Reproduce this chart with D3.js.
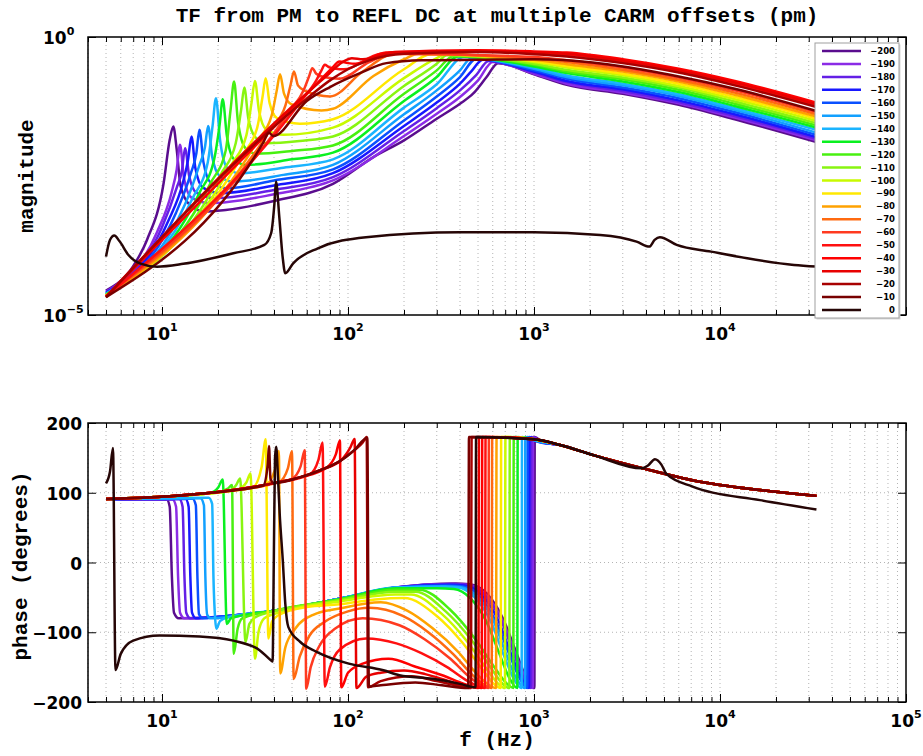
<!DOCTYPE html>
<html>
<head>
<meta charset="utf-8">
<script src="https://cdn.jsdelivr.net/npm/d3@7"></script>
<style>
  body { margin: 0; background: #fff; }
  text { font-family: "DejaVu Sans", sans-serif; font-weight: bold; fill: #000; }
  .mono { font-family: "Liberation Mono", monospace; font-weight: bold; }
</style>
</head>
<body>
<script>
// CARM offsets (pm) and their line colours
const offsets = [-200, -190, -180, -170, -160, -150, -140, -130, -120, -110, -100, -90, -80, -70, -60, -50, -40, -30, -20, -10, 0];
const lineColors = ["#5a0d8e", "#8b2be6", "#6420e6", "#1818ff", "#0a50ff", "#12a0ff", "#1ab4ff", "#0af020",
  "#48f010", "#88f510", "#c8fa00", "#ffe800", "#ffa200", "#ff6a10", "#ff3a20", "#ff1010", "#ff0000",
  "#e80000", "#a80000", "#780000", "#260606"];

// magnitude: [f (Hz), log10 |TF|]
const magM200 = [[5,-4.56],[7,-4.12],[8.3,-3.65],[10.2,-2.63],[11.0,-1.85],[11.5,-1.61],[12.0,-2.03],[12.6,-2.69],[14.1,-3.02],[17,-3.14],[22,-3.11],[40,-2.95],[83,-2.64],[137,-2.16],[200,-1.86],[300,-1.47],[400,-1.20],[470,-1.02],[556,-0.72],[640,-0.47],[1000,-0.67],[1500,-0.86],[3000,-1.02],[6000,-1.22],[12000,-1.48],[33000,-1.89]];
const magM190 = [[5,-4.58],[9.4,-3.51],[11.25,-2.80],[12.0,-2.38],[12.5,-1.94],[13.1,-2.52],[14.4,-2.89],[18.1,-2.99],[40,-2.83],[83,-2.58],[200,-1.78],[300,-1.38],[400,-1.08],[500,-0.78],[600,-0.45],[1000,-0.66],[1500,-0.84],[3000,-1.00],[6000,-1.19],[12000,-1.45],[33000,-1.86]];
const magM180 = [[5,-4.59],[10.0,-3.42],[12.0,-2.71],[12.8,-2.40],[13.3,-2.00],[14.0,-2.50],[15.3,-2.80],[19.3,-2.90],[40,-2.75],[83,-2.52],[200,-1.69],[300,-1.28],[400,-0.96],[490,-0.68],[570,-0.43],[1000,-0.64],[1500,-0.81],[3000,-0.97],[6000,-1.17],[12000,-1.42],[33000,-1.83]];
const magM170 = [[5,-4.60],[10.8,-3.31],[13.0,-2.60],[13.8,-2.21],[14.4,-1.79],[15.1,-2.35],[16.6,-2.71],[20.6,-2.81],[40,-2.67],[83,-2.45],[200,-1.60],[300,-1.18],[400,-0.84],[460,-0.62],[530,-0.41],[1000,-0.62],[1500,-0.79],[3000,-0.94],[6000,-1.14],[12000,-1.39],[33000,-1.80]];
const magM160 = [[5,-4.61],[11.9,-3.16],[14.3,-2.45],[15.3,-2.09],[15.9,-1.67],[16.7,-2.25],[18.3,-2.62],[22.4,-2.72],[40,-2.58],[83,-2.38],[200,-1.50],[300,-1.07],[400,-0.72],[490,-0.39],[1000,-0.60],[1500,-0.75],[3000,-0.91],[6000,-1.10],[12000,-1.35],[33000,-1.76]];
const magM150 = [[5,-4.62],[13.3,-3.01],[15.9,-2.30],[17.0,-1.99],[17.7,-1.60],[18.6,-2.15],[20.4,-2.50],[24,-2.60],[45,-2.48],[83,-2.30],[200,-1.39],[300,-0.96],[400,-0.60],[460,-0.38],[1000,-0.57],[1500,-0.72],[3000,-0.87],[6000,-1.06],[12000,-1.31],[33000,-1.72]];
const magM140 = [[5,-4.62],[14.6,-2.90],[17.6,-2.26],[18.7,-1.60],[19.5,-1.10],[20.5,-1.84],[22.4,-2.35],[26,-2.45],[45,-2.35],[83,-2.20],[200,-1.27],[300,-0.85],[420,-0.36],[1000,-0.55],[1500,-0.69],[3000,-0.84],[6000,-1.03],[12000,-1.28],[33000,-1.67]];
const magM130 = [[5,-4.63],[15.9,-2.80],[19.1,-2.19],[20.4,-1.58],[21.2,-1.12],[22.3,-1.77],[24.4,-2.20],[28.5,-2.30],[50,-2.20],[83,-2.08],[200,-1.15],[300,-0.72],[390,-0.35],[1000,-0.53],[1500,-0.65],[3000,-0.80],[6000,-0.99],[12000,-1.24],[33000,-1.63]];
const magM120 = [[5,-4.64],[18.3,-2.62],[22.0,-2.04],[23.4,-1.29],[24.4,-0.80],[25.6,-1.52],[28.1,-2.00],[32,-2.10],[50,-2.05],[83,-1.95],[200,-1.02],[300,-0.60],[370,-0.34],[1000,-0.50],[1500,-0.62],[3000,-0.76],[6000,-0.95],[12000,-1.20],[33000,-1.59]];
const magM110 = [[5,-4.64],[20.8,-2.46],[24.9,-1.91],[26.6,-1.32],[27.7,-0.91],[29.1,-1.46],[31.9,-1.81],[36.5,-1.91],[55,-1.87],[83,-1.79],[200,-0.88],[300,-0.48],[340,-0.33],[1000,-0.48],[1500,-0.59],[3000,-0.73],[6000,-0.91],[12000,-1.16],[33000,-1.55]];
const magM100 = [[5,-4.65],[23.7,-2.29],[28.4,-1.77],[30.3,-1.18],[31.6,-0.79],[33.2,-1.32],[36.3,-1.66],[45,-1.76],[83,-1.63],[200,-0.74],[300,-0.38],[330,-0.32],[1000,-0.45],[1500,-0.55],[3000,-0.69],[6000,-0.88],[12000,-1.12],[33000,-1.51]];
const magM90 = [[5,-4.65],[27.1,-2.12],[32.5,-1.63],[34.7,-1.08],[36.1,-0.74],[37.9,-1.19],[41.5,-1.46],[55,-1.56],[83,-1.48],[200,-0.58],[280,-0.31],[1000,-0.43],[1500,-0.52],[3000,-0.66],[6000,-0.84],[12000,-1.08],[33000,-1.47]];
const magM80 = [[5,-4.66],[32.3,-1.89],[38.8,-1.42],[41.4,-0.96],[43.1,-0.67],[45.3,-1.02],[49.6,-1.21],[72,-1.32],[83,-1.29],[137,-0.70],[200,-0.40],[240,-0.30],[1000,-0.41],[1500,-0.49],[3000,-0.62],[6000,-0.80],[12000,-1.04],[33000,-1.43]];
const magM70 = [[5,-4.66],[38.4,-1.66],[46.1,-1.23],[49.2,-0.85],[51.2,-0.62],[53.8,-0.87],[58.9,-0.97],[80,-1.07],[120,-0.62],[180,-0.30],[1000,-0.38],[1500,-0.45],[3000,-0.59],[6000,-0.77],[12000,-1.00],[33000,-1.39]];
const magM60 = [[5,-4.66],[48.2,-1.35],[57.9,-0.95],[61.7,-0.71],[64.3,-0.56],[67.5,-0.66],[74,-0.72],[90,-0.75],[130,-0.45],[170,-0.30],[1000,-0.36],[1500,-0.42],[3000,-0.55],[6000,-0.73],[12000,-0.96],[33000,-1.35]];
const magM50 = [[5,-4.67],[56.3,-1.14],[67.5,-0.78],[72,-0.60],[75,-0.50],[78.8,-0.54],[86,-0.57],[95,-0.58],[150,-0.30],[500,-0.25],[1000,-0.29],[1500,-0.32],[3000,-0.44],[6000,-0.62],[12000,-0.84],[33000,-1.23]];
const magM40 = [[5,-4.67],[67.5,-0.85],[81,-0.58],[90,-0.44],[100,-0.47],[110,-0.48],[160,-0.28],[500,-0.24],[1000,-0.26],[1500,-0.28],[3000,-0.40],[6000,-0.57],[12000,-0.79],[33000,-1.18]];
const magM30 = [[5,-4.67],[79,-0.66],[94.5,-0.44],[105,-0.38],[120,-0.40],[180,-0.27],[500,-0.25],[1000,-0.28],[1500,-0.30],[3000,-0.43],[6000,-0.60],[12000,-0.82],[33000,-1.21]];
const magM20 = [[5,-4.68],[60,-1.11],[80,-0.78],[100,-0.58],[130,-0.42],[200,-0.30],[500,-0.27],[1000,-0.31],[1500,-0.35],[3000,-0.47],[6000,-0.64],[12000,-0.87],[33000,-1.26]];
const magM10 = [[5,-4.68],[35,-1.90],[37.6,-1.72],[39.5,-1.78],[60,-1.15],[80,-0.90],[116,-0.65],[161,-0.47],[250,-0.42],[500,-0.41],[1000,-0.40],[1500,-0.42],[3000,-0.53],[6000,-0.71],[12000,-0.93],[33000,-1.33]];
const magM0 = [[5,-3.95],[5.25,-3.65],[5.54,-3.57],[5.9,-3.67],[6.6,-3.92],[7.6,-4.07],[9.4,-4.13],[13,-4.08],[24.2,-3.89],[35.5,-3.74],[38.6,-3.53],[40.2,-3.0],[41,-2.60],[42.7,-3.23],[44.5,-3.95],[46,-4.25],[50.7,-4.07],[68.9,-3.80],[125,-3.60],[400,-3.51],[1000,-3.51],[2270,-3.56],[3560,-3.68],[4170,-3.77],[4450,-3.65],[4750,-3.60],[5850,-3.74],[8950,-3.86],[14000,-3.98],[25000,-4.10],[33000,-4.13]];

// phase: [f (Hz), degrees]; common high-frequency line after the wrap
const phaseTail = [[1380,168.4],[2085,154],[3860,134.9],[7180,117.6],[16400,103.8],[33000,95.5]];
const phM200 = [[5,90.5],[10.6,90.5],[11.0,80],[11.3,-20],[11.6,-72],[12.3,-80],[20,-78],[40,-69],[90,-52],[181,-36],[380,-30],[450,-31],[560,-45],[680,-80],[800,-128],[900,-163],[1005,-180],[1009,180],[1105,173], ...phaseTail];
const phM190 = [[5,90.5],[11.4,90.5],[11.9,80],[12.2,-20],[12.5,-72],[13.2,-80],[20,-78],[40,-69],[90,-52],[181,-36],[370,-31],[440,-32],[550,-46],[670,-81],[790,-129],[890,-163],[985,-180],[989,180],[1090,173], ...phaseTail];
const phM180 = [[5,90.5],[12.4,91],[12.9,80],[13.2,-20],[13.5,-72],[14.2,-80],[20,-78],[40,-69],[90,-52],[181,-36],[360,-31],[430,-32],[540,-46],[660,-81],[775,-129],[870,-163],[963,-180],[967,180],[1070,173], ...phaseTail];
const phM170 = [[5,91],[13.4,91],[13.9,80],[14.2,-20],[14.5,-72],[15.2,-80],[20,-78],[40,-69],[90,-52],[181,-36],[350,-32],[420,-33],[525,-47],[640,-82],[750,-130],[850,-164],[940,-180],[944,180],[1050,173], ...phaseTail];
const phM160 = [[5,91],[14.6,91.5],[15.2,82],[15.5,-20],[15.8,-74],[16.6,-80],[20,-78],[40,-69],[90,-52],[181,-36],[340,-33],[410,-34],[510,-48],[620,-83],[735,-131],[830,-164],[920,-180],[924,180],[1030,174], ...phaseTail];
const phM150 = [[5,91],[16.1,92],[16.8,82],[17.1,-20],[17.5,-75],[18.3,-80],[40,-69],[90,-52],[181,-36],[330,-34],[400,-35],[495,-49],[605,-83],[710,-132],[800,-165],[894,-180],[898,180],[1000,175], ...phaseTail];
const phM140 = [[5,91],[17.8,93],[18.6,84],[18.9,-20],[19.3,-80],[19.6,-95],[20.5,-84],[23,-78],[40,-69],[90,-52],[181,-36],[320,-35],[390,-36],[480,-50],[585,-84],[686,-132],[773,-165],[858,-180],[862,180],[1000,176], ...phaseTail];
const phM130 = [[5,91],[11,95],[18,99.5],[20.1,108],[21.2,119],[22.3,-88],[23.5,-80],[40,-69],[90,-52.5],[181,-37],[300,-37],[370,-38],[454,-51],[553,-84],[650,-130],[732,-164],[813,-180],[817,180],[1000,176.6], ...phaseTail];
const phM120 = [[5,91],[11,95],[20.2,101],[22.6,106],[23.8,111],[24.3,-131],[25.5,-95],[27,-80],[40,-69],[90,-53],[181,-39],[242,-39],[352,-67],[484,-110],[619,-152],[717,-174],[774,-180],[778,180],[1000,176.6], ...phaseTail];
const phM110 = [[5,91],[11,95],[22.4,102],[25,110.6],[26.3,120.5],[28.1,-114],[29.5,-88],[32,-78],[40,-70],[90,-54],[181,-42],[230,-42],[335,-70],[461,-111],[590,-152],[682,-174.5],[737,-180],[741,180],[1000,176.6], ...phaseTail];
const phM100 = [[5,91],[11,95],[25.4,104.4],[28.4,114.7],[29.9,127.7],[31.6,-138],[33,-100],[35.5,-80],[45,-70],[90,-56],[180,-46],[218,-46],[317,-73],[436,-113],[558,-153],[646,-174.6],[698,-180],[702,180],[1000,176.6], ...phaseTail];
const phM90 = [[5,91],[11,95],[30.7,107.5],[34.3,136.6],[36.1,176.6],[37.3,-109],[39,-85],[42,-76],[60,-64],[90,-60],[140,-53],[200,-51],[301,-77],[414,-115.5],[530,-154],[613,-175],[662,-180],[666,180],[1000,176.6], ...phaseTail];
const phM80 = [[5,91],[11,95],[20,101],[36,111.2],[40.4,132.4],[42.5,160],[43.2,-159],[46,-122],[52,-95],[65,-75],[90,-66],[150,-57],[208,-69],[284,-94],[391,-128],[500,-161.6],[579,-176.3],[625,-180],[629,180],[1000,176.6], ...phaseTail];
const phM70 = [[5,91],[11,95],[20,101],[42.5,115.3],[47.5,135],[50,160],[51,-167],[55,-135],[62,-105],[75,-85],[100,-70],[130,-65],[197,-76.5],[269,-99.5],[370,-132],[474,-163],[548,-176.6],[592,-180],[596,180],[1000,176.6], ...phaseTail];
const phM60 = [[5,91],[11,95],[20,101],[40,113.8],[49.7,119.5],[55.6,137.8],[58.5,161],[59.6,-181],[63,-150],[70,-120],[85,-95],[120,-80],[189,-90],[258,-110],[355,-138],[454,-165],[526,-177],[568,-180],[572,180],[1000,176.6], ...phaseTail];
const phM50 = [[5,91],[11,95],[20,101],[40,113.8],[62,126],[69.4,147.6],[73,172],[75,-178],[80,-150],[90,-125],[125,-109],[182,-116],[248,-130],[341,-150],[436,-169.4],[505,-177.9],[545,-180],[549,180],[1000,176.6], ...phaseTail];
const phM40 = [[5,91],[11,95],[20,101],[40,113.8],[55,122],[77,136.3],[86,155],[90.5,175],[92,-179],[100,-158],[120,-145],[165,-138],[238,-150.6],[327,-162.4],[418,-173.7],[484,-178.7],[523,-180],[527,180],[1000,176.6], ...phaseTail];
const phM30 = [[5,91],[11,95],[20,101],[40,113.8],[55,122],[72,133],[92,146.8],[103,165],[108.5,177],[111,-180],[125,-164],[150,-158],[200,-155],[260,-160],[330,-168],[410,-176],[502,-180],[506,180],[1000,176.6], ...phaseTail];
const phM20 = [[5,91],[11,95],[20,101],[40,113.8],[55,122],[72,133],[90,145],[107,160],[120,172],[126,180],[128,-179],[150,-170],[220,-163],[300,-170],[380,-176],[458,-180],[462,180],[1000,176.6], ...phaseTail];
const phM10 = [[5,91],[11,95],[20,101],[35,110.5],[37,140],[37.6,167],[38.3,120],[40,113.8],[55,122],[72,133],[90,145],[108,161],[127,179],[129.5,-178],[150,-176],[230,-172],[320,-176],[443,-180],[447,180],[1000,176.6], ...phaseTail];
const phM0 = [[5,113.4],[5.25,130],[5.45,164],[5.62,-154],[6.0,-131],[7.0,-112],[9.7,-104.6],[15.9,-106],[24.2,-112],[33.6,-126],[38.6,-140.5],[39.3,-142],[39.9,0],[40.5,150],[41.1,166],[42.0,123],[42.9,71],[44.6,3],[46,-59],[47.8,-92.6],[55.4,-114],[67.8,-128],[101,-145],[155,-154.5],[189,-161.6],[286,-166.8],[400,-174],[485,-179],[488,180],[1000,176.6],[1380,168.4],[2085,154],[3800,135],[4100,139],[4470,148],[4850,140],[5150,127],[7180,108.5],[16400,89.4],[33000,76]];

const magSeries = [magM200, magM190, magM180, magM170, magM160, magM150, magM140, magM130, magM120, magM110, magM100,
  magM90, magM80, magM70, magM60, magM50, magM40, magM30, magM20, magM10, magM0];
const phaseSeries = [phM200, phM190, phM180, phM170, phM160, phM150, phM140, phM130, phM120, phM110, phM100,
  phM90, phM80, phM70, phM60, phM50, phM40, phM30, phM20, phM10, phM0];

// axis ticks
const xMajor = [10, 100, 1000, 10000, 100000];
const xMinor = [];
[1, 10, 100, 1000, 10000].forEach(d => { for (let k = 2; k <= 9; k++) if (d * k >= 4) xMinor.push(d * k); });
const phaseTicks = [-200, -100, 0, 100, 200];

const width = 923, height = 756;
const left = 88, right = 906;
const magTop = 37, magBottom = 315, phTop = 423, phBottom = 702;

const svg = d3.select("body").append("svg").attr("width", width).attr("height", height);

const x = d3.scaleLog().domain([4, 1e5]).range([left, right]);
const yMag = d3.scaleLog().domain([1e-5, 1]).range([magBottom, magTop]);
const yPh = d3.scaleLinear().domain([-200, 200]).range([phBottom, phTop]);

function frame(top, bottom, y, yTickVals, id) {
  const g = svg.append("g");
  // dotted grid
  const grid = g.append("g").attr("stroke", "#b4b4b4").attr("stroke-width", 1).attr("stroke-dasharray", "1,3");
  xMinor.concat(xMajor.slice(0, 4)).forEach(v => {
    grid.append("line").attr("x1", x(v)).attr("x2", x(v)).attr("y1", top).attr("y2", bottom);
  });
  yTickVals.filter(v => y(v) > top + 1 && y(v) < bottom - 1).forEach(v => {
    grid.append("line").attr("x1", left).attr("x2", right).attr("y1", y(v)).attr("y2", y(v));
  });
  svg.append("clipPath").attr("id", id).append("rect")
    .attr("x", left).attr("y", top).attr("width", right - left).attr("height", bottom - top);
  return g;
}

function ticks(top, bottom, y, yTickVals) {
  const g = svg.append("g");
  const addAxis = (axis, tx, ty) => {
    const a = g.append("g").attr("transform", `translate(${tx},${ty})`).call(axis);
    a.select(".domain").remove();
    a.selectAll("line").attr("stroke", "#000");
  };
  addAxis(d3.axisBottom(x).tickValues(xMinor).tickSize(-5).tickFormat(""), 0, bottom);
  addAxis(d3.axisBottom(x).tickValues(xMajor).tickSize(-8).tickFormat(""), 0, bottom);
  addAxis(d3.axisTop(x).tickValues(xMinor).tickSize(-5).tickFormat(""), 0, top);
  addAxis(d3.axisTop(x).tickValues(xMajor).tickSize(-8).tickFormat(""), 0, top);
  addAxis(d3.axisLeft(y).tickValues(yTickVals).tickSize(-8).tickFormat(""), left, 0);
  addAxis(d3.axisRight(y).tickValues(yTickVals).tickSize(-8).tickFormat(""), right, 0);
  g.append("rect").attr("x", left).attr("y", top).attr("width", right - left).attr("height", bottom - top)
    .attr("fill", "none").attr("stroke", "#000").attr("stroke-width", 1.5);
}

function powLabel(px, py, exp, anchor) {
  const t = svg.append("text").attr("x", px).attr("y", py).attr("text-anchor", anchor).attr("font-size", 17);
  t.append("tspan").text("10");
  t.append("tspan").attr("dy", -9).attr("font-size", 11).text(exp);
}

// ---- magnitude panel ----
frame(magTop, magBottom, yMag, [], "clipMag");
const magLine = d3.line()
  .x(d => x(d[0]))
  .y(d => yMag(Math.pow(10, d[1])))
  .curve(d3.curveMonotoneX);
const magG = svg.append("g").attr("clip-path", "url(#clipMag)");
magSeries.forEach((s, i) => {
  magG.append("path").attr("d", magLine(s)).attr("fill", "none")
    .attr("stroke", lineColors[i]).attr("stroke-width", 2.5).attr("stroke-linejoin", "round");
});
ticks(magTop, magBottom, yMag, [1e-5, 1]);

// ---- phase panel ----
frame(phTop, phBottom, yPh, phaseTicks, "clipPh");
const phLine = d3.line()
  .x(d => x(d[0]))
  .y(d => yPh(d[1]))
  .curve(d3.curveMonotoneX);
const phG = svg.append("g").attr("clip-path", "url(#clipPh)");
phaseSeries.forEach((s, i) => {
  phG.append("path").attr("d", phLine(s)).attr("fill", "none")
    .attr("stroke", lineColors[i]).attr("stroke-width", 2.5).attr("stroke-linejoin", "round");
});
ticks(phTop, phBottom, yPh, phaseTicks);

// ---- tick labels ----
[10, 100, 1000, 10000].forEach((v, i) => powLabel(x(v), 340, String(i + 1), "middle"));
xMajor.forEach((v, i) => powLabel(x(v), 727, String(i + 1), "middle"));
powLabel(43, 44, "0", "start");
powLabel(43, 322, "\u22125", "start");
phaseTicks.forEach(v => {
  svg.append("text").attr("x", 82).attr("y", yPh(v) + 7).attr("text-anchor", "end").attr("font-size", 17)
    .text(v < 0 ? "\u2212" + Math.abs(v) : String(v));
});

// ---- titles ----
svg.append("text").attr("class", "mono").attr("x", 497).attr("y", 22).attr("text-anchor", "middle")
  .attr("font-size", 21).text("TF from PM to REFL DC at multiple CARM offsets (pm)");
svg.append("text").attr("class", "mono").attr("transform", "translate(27,176) rotate(-90)")
  .attr("text-anchor", "middle").attr("dominant-baseline", "central").attr("font-size", 21).text("magnitude");
svg.append("text").attr("class", "mono").attr("transform", "translate(21,566) rotate(-90)")
  .attr("text-anchor", "middle").attr("dominant-baseline", "central").attr("font-size", 21).text("phase (degrees)");
svg.append("text").attr("class", "mono").attr("x", 497).attr("y", 746).attr("text-anchor", "middle")
  .attr("font-size", 21).text("f (Hz)");

// ---- legend ----
const lg = svg.append("g");
lg.append("rect").attr("x", 816.5).attr("y", 44.5).attr("width", 84).attr("height", 275).attr("fill", "#d8d8d8");
lg.append("rect").attr("x", 815).attr("y", 43).attr("width", 84).attr("height", 275)
  .attr("fill", "#fff").attr("stroke", "#a0a0a0").attr("stroke-width", 1);
offsets.forEach((v, i) => {
  const ry = 51 + i * 12.95;
  lg.append("line").attr("x1", 822).attr("x2", 861).attr("y1", ry).attr("y2", ry)
    .attr("stroke", lineColors[i]).attr("stroke-width", 2.5);
  lg.append("text").attr("x", 895).attr("y", ry + 3).attr("text-anchor", "end").attr("font-size", 8.5)
    .text(v < 0 ? "\u2212" + Math.abs(v) : String(v));
});
</script>
</body>
</html>
